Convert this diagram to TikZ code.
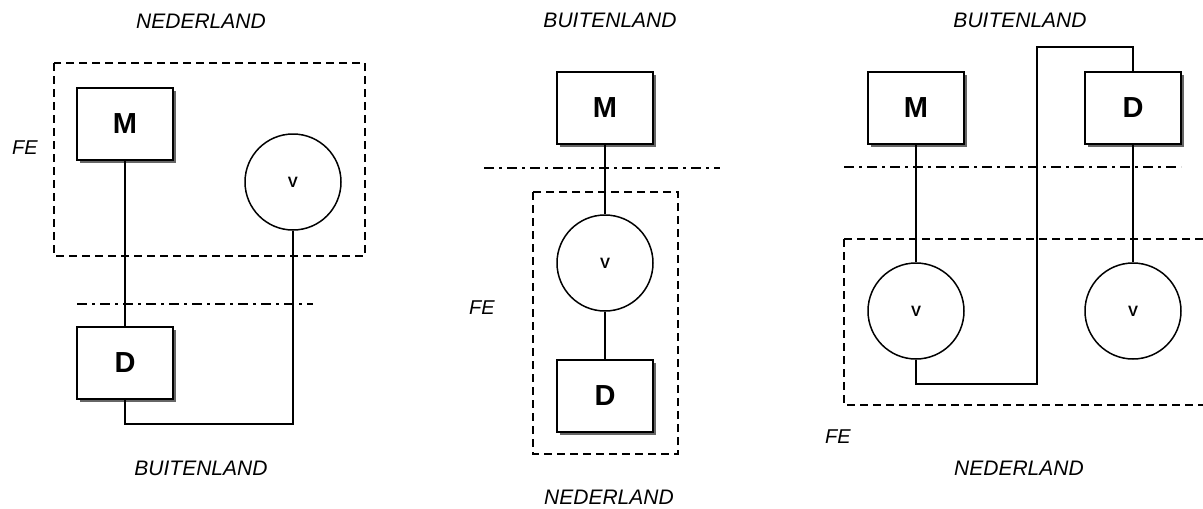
\documentclass[tikz,border=0pt]{standalone}
\usepackage{fontspec}
\setmainfont{Liberation Sans}
\usetikzlibrary{shadows}
\begin{document}
\begin{tikzpicture}[x=1pt,y=-1pt,line width=1.5pt]
\tikzstyle{every node}+=[inner sep=0pt]
\tikzstyle{unit}=[draw,fill=white,minimum width=96pt,minimum height=72pt,font=\fontsize{29}{29}\selectfont\bfseries,drop shadow={shadow xshift=2.5pt,shadow yshift=-2.5pt,fill=black!60,opacity=1}]
\tikzstyle{vnode}=[draw,circle,minimum size=96pt,font=\fontsize{15}{15}\selectfont\bfseries]
\tikzstyle{land}=[font=\fontsize{21}{21}\selectfont\itshape]
\tikzstyle{fe}=[font=\fontsize{20}{20}\selectfont\itshape]
\tikzstyle{zone}=[dash pattern=on 8pt off 5pt,line width=1.6pt]
\tikzstyle{grens}=[dash pattern=on 10pt off 5pt on 3pt off 5pt]
\useasboundingbox (0,0) rectangle (1203,509);
% links
\draw [zone] (54,63) rectangle (365,256);
\draw [grens] (77,304) -- (313,304);
\node [unit] (m1) at (125,124) {M};
\node [vnode] (v1) at (293,182) {V};
\node [unit] (d1) at (125,363) {D};
\draw (m1) -- (d1);
\draw (d1.south) -- ++(0,24) -| (v1.south);
\node [land] (n1) at (201,21) {NEDERLAND};
\node [land] (b1) at (201,468) {BUITENLAND};
\node [fe] (f1) at (25,148) {FE};
% midden
\draw [zone] (533,192) rectangle (678,454);
\draw [grens] (484,168) -- (720,168);
\node [unit] (m2) at (605,108) {M};
\node [vnode] (v2) at (605,263) {V};
\node [unit] (d2) at (605,396) {D};
\draw (m2) -- (v2);
\draw (v2) -- (d2);
\node [land] (b2) at (610,20) {BUITENLAND};
\node [land] (n2) at (609,497) {NEDERLAND};
\node [fe] (f2) at (482,308) {FE};
% rechts
\draw [zone] (844,239) rectangle (1215,405);
\draw [grens] (844,167) -- (1181,167);
\node [unit] (m3) at (916,108) {M};
\node [unit] (d3) at (1133,108) {D};
\node [vnode] (v3) at (916,311) {V};
\node [vnode] (v4) at (1133,311) {V};
\coordinate (top) at (1037,47);
\draw (m3) -- (v3);
\draw (d3) -- (v4);
\draw (v3.south) -- ++(0,24) -| (top) -| (d3.north);
\node [land] (b3) at (1020,20) {BUITENLAND};
\node [land] (n3) at (1019,468) {NEDERLAND};
\node [fe] (f3) at (838,437) {FE};
\end{tikzpicture}
\end{document}
